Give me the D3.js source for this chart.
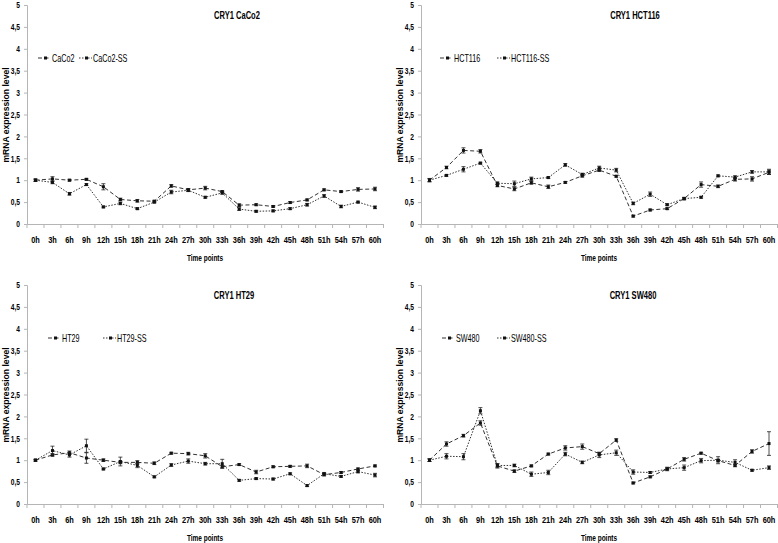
<!DOCTYPE html>
<html>
<head>
<meta charset="utf-8">
<script src="https://cdn.jsdelivr.net/npm/d3@7/dist/d3.min.js"></script>
<style>
html,body{margin:0;padding:0;background:#fff;}
svg{display:block;}
text{font-family:"Liberation Sans",Arial,sans-serif;}
</style>
</head>
<body>
<svg id="chart" width="778" height="543"></svg>
<script>
// ---------- data ----------
const timeLabels = ["0h","3h","6h","9h","12h","15h","18h","21h","24h","27h","30h","33h","36h","39h","42h","45h","48h","51h","54h","57h","60h"];
const yTicks = [0,0.5,1,1.5,2,2.5,3,3.5,4,4.5,5];

const caco2     = [1.00,1.03,1.00,1.02,0.85,0.56,0.53,0.52,0.87,0.78,0.82,0.74,0.43,0.44,0.40,0.49,0.55,0.78,0.74,0.79,0.80];
const caco2Err  = [0.03,0.05,0.02,0.02,0.07,0.03,0.03,0.02,0.03,0.03,0.04,0.02,0.03,0.02,0.02,0.02,0.02,0.02,0.02,0.04,0.04];
const caco2SS   = [1.00,0.95,0.69,0.90,0.39,0.47,0.35,0.50,0.73,0.77,0.61,0.71,0.34,0.29,0.30,0.35,0.44,0.64,0.40,0.50,0.38];
const caco2SSErr= [0.02,0.03,0.03,0.02,0.02,0.03,0.02,0.02,0.04,0.03,0.02,0.03,0.03,0.02,0.02,0.02,0.03,0.03,0.03,0.02,0.03];

const hct116     = [1.00,1.29,1.68,1.66,0.88,0.80,0.94,0.85,0.95,1.10,1.23,1.09,0.18,0.32,0.35,0.58,0.90,0.86,1.02,1.03,1.18];
const hct116Err  = [0.04,0.03,0.06,0.04,0.03,0.04,0.03,0.04,0.02,0.03,0.03,0.02,0.02,0.02,0.02,0.02,0.06,0.03,0.04,0.05,0.05];
const hct116SS   = [1.00,1.11,1.25,1.39,0.93,0.92,1.03,1.06,1.35,1.13,1.28,1.23,0.47,0.68,0.44,0.58,0.61,1.10,1.07,1.19,1.19];
const hct116SSErr= [0.03,0.02,0.06,0.02,0.03,0.06,0.04,0.02,0.03,0.03,0.04,0.04,0.03,0.05,0.02,0.03,0.02,0.02,0.03,0.03,0.06];

const ht29     = [1.00,1.12,1.17,1.05,1.00,0.95,0.95,0.93,1.16,1.15,1.10,0.85,0.90,0.73,0.85,0.86,0.87,0.67,0.72,0.80,0.87];
const ht29Err  = [0.02,0.03,0.04,0.12,0.03,0.03,0.04,0.03,0.02,0.03,0.05,0.03,0.02,0.04,0.02,0.02,0.04,0.03,0.02,0.02,0.02];
const ht29SS   = [1.00,1.22,1.12,1.33,0.80,0.97,0.88,0.62,0.89,0.98,0.92,0.92,0.54,0.58,0.57,0.69,0.42,0.69,0.63,0.74,0.66];
const ht29SSErr= [0.02,0.10,0.05,0.15,0.02,0.10,0.05,0.02,0.03,0.05,0.03,0.10,0.02,0.02,0.02,0.02,0.02,0.03,0.02,0.03,0.04];

const sw480     = [1.00,1.37,1.56,1.85,0.87,0.75,0.87,1.14,1.28,1.31,1.15,1.46,0.48,0.62,0.80,1.02,1.16,0.99,0.88,1.20,1.38];
const sw480Err  = [0.03,0.05,0.03,0.05,0.05,0.03,0.02,0.02,0.05,0.06,0.03,0.03,0.02,0.02,0.02,0.04,0.02,0.03,0.03,0.04,0.27];
const sw480SS   = [1.00,1.09,1.08,2.13,0.88,0.88,0.68,0.72,1.14,0.95,1.12,1.17,0.73,0.72,0.80,0.83,0.99,1.00,0.95,0.77,0.83];
const sw480SSErr= [0.03,0.06,0.07,0.07,0.04,0.03,0.05,0.05,0.04,0.03,0.06,0.06,0.05,0.02,0.04,0.06,0.05,0.08,0.06,0.02,0.04];

const panelTitles = ["CRY1 CaCo2","CRY1 HCT116","CRY1 HT29","CRY1 SW480"];
const seriesNames = [["CaCo2","CaCo2-SS"],["HCT116","HCT116-SS"],["HT29","HT29-SS"],["SW480","SW480-SS"]];
const seriesValues = [[caco2,caco2SS],[hct116,hct116SS],[ht29,ht29SS],[sw480,sw480SS]];
const seriesErrors = [[caco2Err,caco2SSErr],[hct116Err,hct116SSErr],[ht29Err,ht29SSErr],[sw480Err,sw480SSErr]];
const yAxisTitle = "mRNA expression level";
const xAxisTitle = "Time points";

// ---------- layout ----------
const panels = [
  {ox:0,   oy:0,   titleX:237, leg:[52,93]},
  {ox:394, oy:0,   titleX:241, leg:[60,117]},
  {ox:0,   oy:280, titleX:234, leg:[62,117]},
  {ox:394, oy:280, titleX:239, leg:[62,117]}
];
const dashes = ["4,2.5","1.5,1.5"];
const lineCol = "#333";
const axisCol = "#b5b5b5";

const svg = d3.select("#chart");
const x = d3.scaleBand().domain(timeLabels).range([27, 383.5]);
const y = d3.scaleLinear().domain([0,5]).range([224, 5]);

function ctext(g, tx, ty, str, size, k, opts = {}) {
  return g.append("text")
    .attr("transform", `translate(${tx},${ty}) scale(${k},1)`)
    .attr("dy", "0.35em")
    .attr("text-anchor", opts.anchor || "start")
    .attr("font-size", size)
    .attr("font-weight", opts.bold ? "bold" : "normal")
    .attr("fill", "#000")
    .text(str);
}

panels.forEach((p, pi) => {
  const g = svg.append("g").attr("transform", `translate(${p.ox},${p.oy})`);

  // y axis
  const yk = 0.78;
  const ya = g.append("g").attr("transform","translate(27,0)")
    .call(d3.axisLeft(y).tickValues(yTicks).tickSize(3).tickPadding(4)
      .tickFormat(d => String(d).replace(".", ",")));
  ya.select(".domain").attr("stroke", axisCol);
  ya.selectAll(".tick line").attr("stroke", axisCol);
  ya.selectAll("text").attr("font-size", 8.5).attr("font-weight","bold").attr("fill","#000")
    .attr("transform", `scale(${yk},1)`).attr("x", -7 / yk);

  // x axis
  const xa = g.append("g").attr("transform", `translate(0,${y(0)})`)
    .call(d3.axisBottom(x).tickSize(0).tickPadding(12));
  xa.select(".domain").attr("stroke", axisCol);
  xa.selectAll("text").attr("font-size", 9.5).attr("font-weight","bold").attr("fill","#000")
    .attr("transform", "scale(0.78,1)");
  const bounds = timeLabels.map(t => x(t)).concat([x.range()[1]]);
  g.append("g").selectAll("line").data(bounds).join("line")
    .attr("x1", d => d).attr("x2", d => d)
    .attr("y1", y(0)).attr("y2", y(0) + 4)
    .attr("stroke", axisCol);

  // titles
  ctext(g, p.titleX, 15, panelTitles[pi], 10.5, 0.72, {anchor:"middle", bold:true});
  g.append("text").attr("transform", "translate(6,115) rotate(-90)")
    .attr("dy","0.35em").attr("text-anchor","middle")
    .attr("font-size", 8.6).attr("font-weight","bold")
    .text(yAxisTitle);
  ctext(g, 205, 258, xAxisTitle, 9, 0.72, {anchor:"middle", bold:true});

  // series
  seriesValues[pi].forEach((vals, si) => {
    const errs = seriesErrors[pi][si];
    const cx = i => x(timeLabels[i]) + x.bandwidth()/2;
    const line = d3.line().x((d,i) => cx(i)).y(d => y(d));
    g.append("path").datum(vals).attr("d", line)
      .attr("fill","none").attr("stroke", lineCol).attr("stroke-width", 1)
      .attr("stroke-dasharray", dashes[si]);
    const eb = g.append("g");
    vals.forEach((v, i) => {
      const e = errs[i];
      const x0 = cx(i);
      eb.append("line").attr("x1",x0).attr("x2",x0).attr("y1",y(v+e)).attr("y2",y(v-e))
        .attr("stroke","#222").attr("stroke-width",0.8);
      eb.append("line").attr("x1",x0-2).attr("x2",x0+2).attr("y1",y(v+e)).attr("y2",y(v+e))
        .attr("stroke","#222").attr("stroke-width",0.8);
      eb.append("line").attr("x1",x0-2).attr("x2",x0+2).attr("y1",y(v-e)).attr("y2",y(v-e))
        .attr("stroke","#222").attr("stroke-width",0.8);
    });
    g.append("g").selectAll("rect").data(vals).join("rect")
      .attr("x", (d,i) => cx(i) - 1.5).attr("y", d => y(d) - 1.5)
      .attr("width", 3).attr("height", 3).attr("fill", "#111");

    // legend
    const tx = p.leg[si];
    const ly = 58;
    const lg = g.append("g");
    lg.append("line").attr("x1", tx - 14).attr("x2", tx - 1).attr("y1", ly).attr("y2", ly)
      .attr("stroke", lineCol).attr("stroke-dasharray", dashes[si]);
    lg.append("rect").attr("x", tx - 8).attr("y", ly - 1.5).attr("width",3).attr("height",3).attr("fill","#111");
    ctext(lg, tx, ly, seriesNames[pi][si], 10, 0.72);
  });
});
</script>
</body>
</html>
